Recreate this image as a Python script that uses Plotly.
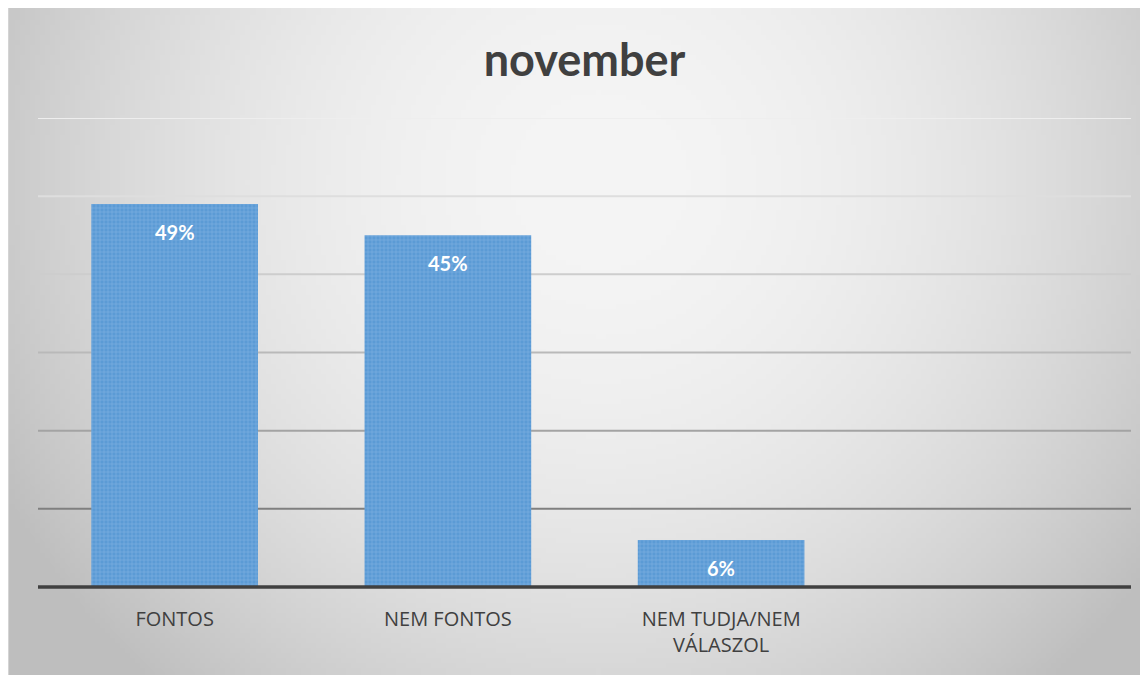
import base64, struct, zlib
import numpy as np
import plotly.graph_objects as go

# ---- data ----
categories = ["FONTOS", "NEM FONTOS", "NEM TUDJA/NEM<br>VÁLASZOL"]
values = [49, 45, 6]
value_labels = ["49%", "45%", "6%"]
grid_values = [10, 20, 30, 40, 50, 60]
grid_colors = ["#7f7f7f", "#a3a3a3", "#b9b9b9", "#cdcdcd", "#dedede", "#eeeeee"]

FW, FH = 1140, 667

# ---- background gradient image (radial, light centre) ----
W, H = 228, 134
ys, xs = np.mgrid[0:H, 0:W]
px = xs / (W - 1) * FW + 8
py = ys / (H - 1) * FH + 8
d = np.sqrt(((px - 600) / 650) ** 2 + ((py - 180) / 650) ** 2)
c = np.clip(245 - 50 * d ** 2, 190, 246).astype(np.uint8)
img = np.stack([c, c, c], axis=-1)


def png_bytes(arr):
    h, w, _ = arr.shape
    raw = b"".join(b"\x00" + arr[i].tobytes() for i in range(h))

    def chunk(tag, data):
        return struct.pack(">I", len(data)) + tag + data + struct.pack(">I", zlib.crc32(tag + data) & 0xFFFFFFFF)

    return (b"\x89PNG\r\n\x1a\n" + chunk(b"IHDR", struct.pack(">IIBBBBB", w, h, 8, 2, 0, 0, 0))
            + chunk(b"IDAT", zlib.compress(raw, 9)) + chunk(b"IEND", b""))


bg_uri = "data:image/png;base64," + base64.b64encode(png_bytes(img)).decode()

ML, MR, MT, MB = 30, 17, 110, 88
PW, PH = FW - ML - MR, FH - MT - MB

fig = go.Figure()
fig.add_trace(go.Bar(
    x=list(range(len(categories))), y=values,
    width=0.61,
    marker=dict(color="#5b9bd5", line=dict(width=0),
                pattern=dict(shape="+", fgcolor="#a9cbec", fgopacity=0.5, size=4, solidity=0.25)),
    hoverinfo="skip",
))

annotations = [
    dict(x=i, y=v, xref="x", yref="y", text=f"<b>{t}</b>", showarrow=False,
         yanchor="middle", yshift=-28,
         font=dict(family="Lato", size=20, color="white"))
    for i, (v, t) in enumerate(zip(values, value_labels))
]

shapes = []
for gv, gc in zip(grid_values, grid_colors):
    shapes.append(dict(type="line", xref="paper", yref="y", x0=0, x1=1, y0=gv, y1=gv,
                       line=dict(color=gc, width=2), layer="below"))
shapes.append(dict(type="line", xref="paper", yref="paper", x0=0, x1=1, y0=0, y1=0,
                   line=dict(color="#404040", width=3.5), layer="above"))
shapes.append(dict(type="line", xref="paper", yref="paper", x0=-ML / PW, x1=-ML / PW,
                   y0=-MB / PH, y1=(FH - MB) / PH, line=dict(color="#d4d4d4", width=2), layer="above"))

fig.update_layout(
    width=FW, height=FH,
    margin=dict(l=ML, r=MR, t=MT, b=MB),
    paper_bgcolor="white", plot_bgcolor="rgba(0,0,0,0)",
    title=dict(text="<b>november</b>", x=0.5, xref="paper", xanchor="center", y=0.922, yanchor="middle",
               font=dict(family="Lato", size=45, color="#404040")),
    xaxis=dict(range=[-0.5, 3.5], tickvals=list(range(len(categories))), ticktext=categories,
               showgrid=False, zeroline=False, showline=False, ticks="", ticklabelstandoff=18,
               tickfont=dict(family="Open Sans", size=20, color="#404040")),
    yaxis=dict(range=[0, 60], showgrid=False, zeroline=False, showticklabels=False, ticks=""),
    shapes=shapes,
    annotations=annotations,
    images=[dict(source=bg_uri, xref="paper", yref="paper",
                 x=-ML / PW, y=(FH - MB) / PH,
                 sizex=FW / PW, sizey=FH / PH,
                 xanchor="left", yanchor="top", sizing="stretch", layer="below")],
    showlegend=False,
)

fig.write_html("out.html")
